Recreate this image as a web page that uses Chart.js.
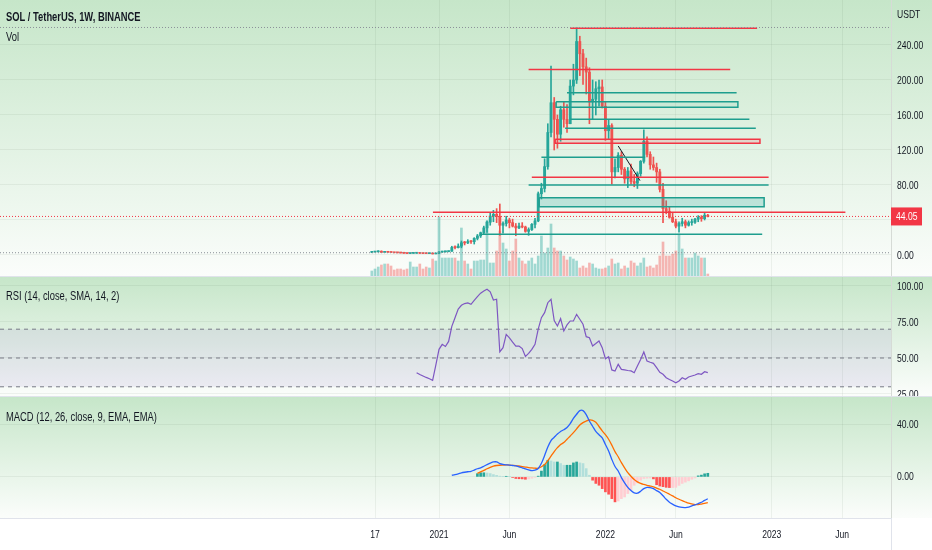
<!DOCTYPE html>
<html>
<head>
<meta charset="utf-8">
<script src="https://cdn.jsdelivr.net/npm/chart.js@4.4.1/dist/chart.umd.min.js"></script>
<style>
  html, body { margin: 0; padding: 0; background: #ffffff; }
  #wrap { position: relative; width: 932px; height: 550px; overflow: hidden; background: #e0e3eb; }
  .pane { position: absolute; left: 0; width: 932px; }
</style>
</head>
<body>
<div id="wrap">
  <div class="pane" style="top:0;height:276px"><canvas id="priceChart"></canvas></div>
  <div class="pane" style="top:277px;height:119px"><canvas id="rsiChart"></canvas></div>
  <div class="pane" style="top:397px;height:153px"><canvas id="macdChart"></canvas></div>
</div>
<script>
// weekly candles, week 0 = week of 4 Jan 2021
const firstWeek = -21;
const opens = [3.0, 3.4, 3.6, 4.3, 3.0, 3.6, 3.1, 2.9, 2.6, 2.5, 2.3, 2.0, 1.7, 1.9, 2.0, 2.2, 1.9, 1.7, 1.6, 1.7, 1.3,
  1.8, 3.4, 3.7, 3.9, 4.3, 8.6, 8.4, 10.1, 14.0, 13.8, 15.4, 15.2, 19.0, 21.8, 25.5, 31.0, 37.5, 44.5, 46.5, 44.0,
  34.0, 36.0, 40.0, 37.0, 33.0, 31.0, 33.0, 32.0, 27.0, 29.0, 35.0, 39.0, 70.0, 76.0, 101.0, 140.0, 174.0, 155.0, 138.0, 166.0,
  155.0, 150.0, 193.0, 200.0, 244.0, 230.0, 215.0, 209.0, 175.0, 178.0, 190.0, 192.0,
  170.0, 142.0, 148.0, 95.0, 100.0, 114.0, 98.0, 87.0, 96.0, 84.0, 82.0, 93.0, 107.0, 130.0, 115.0, 103.0, 100.0, 95.0, 75.0,
  53.0, 50.0, 43.0, 38.0, 33.0, 36.0, 38.0, 34.0, 37.0, 37.5, 41.0, 43.0, 41.5, 45.5];
const highs = [4.0, 4.0, 4.9, 4.8, 4.0, 3.8, 3.3, 3.0, 2.8, 2.7, 2.5, 2.1, 2.2, 2.3, 2.5, 2.6, 2.0, 1.8, 1.9, 1.8, 1.9,
  4.0, 4.3, 4.4, 4.6, 10.0, 10.6, 12.7, 16.0, 15.5, 17.5, 16.6, 19.8, 23.5, 26.2, 33.0, 39.0, 48.0, 51.0, 53.0, 58.3,
  38.0, 44.3, 42.0, 41.0, 36.0, 36.5, 37.0, 33.0, 31.0, 36.0, 42.0, 72.0, 82.0, 110.0, 150.0, 216.0, 180.0, 160.0, 170.0, 175.0,
  172.0, 200.0, 218.0, 260.0, 250.0, 235.0, 225.0, 214.0, 200.0, 198.0, 200.0, 200.0,
  175.0, 155.0, 150.0, 110.0, 117.0, 118.0, 100.0, 100.0, 104.0, 92.0, 95.0, 108.0, 143.0, 135.0, 118.0, 112.0, 105.0, 98.0,
  82.0, 62.0, 55.0, 48.0, 41.0, 38.0, 42.0, 40.0, 39.0, 41.0, 42.0, 45.0, 45.0, 48.0, 46.5];
const lows = [2.6, 3.2, 3.4, 2.7, 2.8, 2.9, 2.6, 2.4, 2.3, 2.2, 1.9, 1.6, 1.6, 1.8, 1.9, 1.7, 1.6, 1.5, 1.5, 1.1, 1.3,
  1.8, 2.9, 3.2, 3.6, 4.1, 6.9, 8.0, 8.2, 11.5, 13.0, 13.2, 12.5, 17.2, 20.0, 24.0, 25.8, 34.0, 38.0, 37.0, 22.5,
  25.0, 33.0, 31.0, 32.0, 22.0, 30.0, 31.0, 26.0, 22.5, 28.0, 31.0, 38.0, 64.0, 72.0, 98.0, 135.0, 120.0, 122.0, 130.0, 146.0,
  140.0, 150.0, 183.0, 196.0, 205.0, 195.0, 184.0, 150.0, 155.0, 160.0, 170.0, 168.0,
  131.0, 133.0, 81.0, 88.0, 95.0, 92.0, 82.0, 77.0, 81.0, 78.0, 76.0, 90.0, 105.0, 112.0, 98.0, 97.0, 83.0, 72.0,
  37.0, 47.0, 42.0, 37.0, 31.0, 26.0, 33.0, 31.0, 33.0, 34.0, 36.0, 38.0, 38.5, 40.0, 43.5];
const closes = [3.4, 3.6, 4.3, 3.0, 3.6, 3.1, 2.9, 2.6, 2.5, 2.3, 2.0, 1.7, 1.9, 2.0, 2.2, 1.9, 1.7, 1.6, 1.7, 1.3, 1.8,
  3.4, 3.7, 3.9, 4.3, 8.6, 8.4, 10.1, 14.0, 13.8, 15.4, 15.2, 19.0, 21.8, 25.5, 31.0, 37.5, 44.5, 46.5, 44.0, 34.0,
  36.0, 40.0, 37.0, 33.0, 31.0, 33.0, 32.0, 27.0, 29.0, 35.0, 39.0, 70.0, 76.0, 101.0, 140.0, 174.0, 155.0, 138.0, 166.0, 155.0,
  150.0, 193.0, 200.0, 244.0, 230.0, 215.0, 209.0, 175.0, 178.0, 190.0, 192.0, 170.0,
  142.0, 148.0, 95.0, 100.0, 114.0, 98.0, 87.0, 96.0, 84.0, 82.0, 93.0, 107.0, 130.0, 115.0, 103.0, 100.0, 95.0, 75.0,
  53.0, 50.0, 43.0, 38.0, 33.0, 36.0, 38.0, 34.0, 37.0, 37.5, 41.0, 43.0, 41.5, 45.5, 44.05];
// volume, millions SOL
const volumes = [5, 7, 9, 11, 12, 12, 10, 6, 7, 7, 6, 7, 14, 9, 9, 12, 7, 9, 8, 17, 15,
  59, 18, 18, 18, 18, 18, 15, 48, 15, 12, 7, 15, 15, 16, 16, 55, 13, 13, 25, 45,
  33, 27, 15, 25, 37, 18, 15, 12, 15, 18, 12, 20, 40, 23, 28, 52, 28, 25, 25, 20,
  16, 19, 17, 15, 8, 10, 8, 13, 12, 8, 7, 7,
  8, 10, 17, 12, 13, 7, 10, 8, 15, 13, 10, 13, 18, 9, 10, 8, 11, 20, 34, 20,
  20, 22, 25, 42, 27, 18, 18, 18, 23, 20, 18, 18, 2];

const rsiStart = -7;
const rsiValues = [39.8, 38.5, 37.5, 36.5, 35.6, 34.5, 45,
  56, 59.5, 58, 61.5, 72, 78, 84, 86.6, 87.8, 88.3, 87.3, 90, 92.6, 95, 96.5, 97.7, 96, 90.3, 90.8, 54.2,
  57.2, 66.4, 64, 61, 58.3, 58.3, 56.5, 51, 53.2, 56, 59.5, 70, 78, 81.5, 88.4, 90.8, 76, 72.2, 77.3, 68.8,
  73, 75.7, 75.7, 80.3, 76.9, 73.4, 64.8, 64.1, 58.3, 60, 61.8, 57.2,
  49.5, 50.9, 41.7, 41, 45.6, 42.1, 41.7, 41.3, 41, 39.8, 44.4, 49, 54.2, 47.9, 47, 46.3, 43.3, 40,
  38.7, 36.3, 35, 34, 32.8, 34, 36.3, 35.2, 36.8, 37.5, 38.2, 39.1, 38.7, 40.5, 39.8];
const rsiLevels = [30, 50, 70];

const macdStart = 4;
const macdValues = [1.3, 1.8, 2.4, 3.1, 3.6, 4.0, 4.3, 5.3, 6.3, 7.0, 8.2, 9.5, 10.6, 11.5, 11.6, 10.2,
  9.6, 9.3, 9.1, 8.8, 8.5, 7.8, 7.0, 6.2, 5.5, 4.9, 5.2, 6.5, 10.5, 16.5, 23.0, 28.0, 30.5, 33.0, 35.0, 36.3,
  38.0, 41.0, 45.0, 48.2, 51.0, 51.0, 48.0, 43.0, 39.0, 35.0, 32.5, 30.0,
  25.0, 20.0, 13.5, 8.0, 4.6, -0.5, -4.5, -8.0, -10.5, -12.3, -12.5, -11.0, -9.0, -8.0, -8.3, -9.0, -10.5,
  -12.0, -14.5, -17.2, -19.5, -21.0, -22.3, -23.1, -23.5, -23.6, -23.2, -22.3, -21.5, -20.5, -19.5, -18.0, -16.8];
const signalStart = 12;
const signalValues = [2.8, 3.9, 5.0, 6.3, 7.4, 8.3, 8.8, 9.0,
  9.1, 9.2, 9.1, 8.9, 8.7, 8.4, 8.0, 7.6, 7.2, 6.9, 6.7, 6.7, 7.8, 9.5, 12.5, 16.0, 19.5, 22.5, 25.0, 26.4,
  29.0, 31.5, 34.1, 37.0, 40.0, 41.8, 43.0, 43.8, 43.5, 42.0, 38.8, 35.5,
  32.5, 29.0, 24.5, 19.5, 15.5, 11.0, 7.0, 3.3, 0.5, -2.0, -3.8, -5.0, -5.8, -6.5, -7.0, -7.6, -8.6,
  -9.5, -10.8, -12.0, -13.3, -14.6, -16.0, -17.2, -18.3, -19.3, -20.2, -20.8, -21.3, -21.3, -20.9, -20.4, -19.8];
const histValues = [2.5, 3.2, 3.2, 3.0, 2.6, 1.8, 1.2, 0.6,
  0.3, 0.5, 0.2, -0.3, -1.2, -1.4, -1.5, -1.8, -1.5, -1.0, -0.4, 0.6, 4.5, 9.5, 12.8, 12.3, 11.5, 11.5, 10.3, 9.0,
  9.0, 9.0, 10.8, 11.5, 10.8, 10.3, 6.4, 1.3, -2.5, -5.0, -6.4, -9.0,
  -11.5, -13.3, -16.7, -19.2, -18.5, -16.7, -15.4, -12.8, -10.3, -6.4, -4.6, -2.5, -1.2, -1.0, -0.8, -1.5,
  -6.0, -7.0, -7.5, -8.0, -8.2, -8.2, -8.0, -6.5, -5.0, -4.0, -3.0, -1.8, -0.8, 0.8, 1.4, 2.4, 2.8];

// drawings on the price pane: [startWeek, endWeek, price]
const redLevels = [[41, 99.4, 259], [28, 91, 212], [29, 103, 88.8], [-1.9, 127, 48.8]];
const tealLevels = [[40, 93, 185.5], [41, 97, 155], [39.4, 99, 144.8], [32, 64.4, 111.6], [28, 103, 80], [12.8, 101, 23.6]];
// boxes: [startWeek, endWeek, top, bottom]
const redZones = [[36.3, 100.3, 132.2, 127.7]];
const tealZones = [[36.6, 93.4, 175.2, 168.8], [31.3, 101.6, 65.5, 55.2]];
const trendLine = [[56, 124.6], [62.8, 85]];
const lowMarker = 2.6; // dotted marker near the 2020 lows

const timeTickWeeks = [-20, 0, 22, 52, 74, 104, 126];
const timeTickLabels = ['17', '2021', 'Jun', '2022', 'Jun', '2023', 'Jun'];
const priceTicks = [0, 40, 80, 120, 160, 200, 240];
const rsiTicks = [25, 50, 75, 100];
const macdTicks = [0, 40];

const fontFamily = "'Liberation Sans', Arial, sans-serif";
const squeeze = 0.78; // the source text is horizontally condensed
const textColor = '#131722';
const gridColor = 'rgba(60, 90, 60, 0.07)';
const upColor = '#26a69a';
const downColor = '#ef5350';
const tealLine = '#1e9e8e';
const redLine = '#f23645';
const xMin = -137.2, xMax = 141.25;

Chart.defaults.font.family = fontFamily;
Chart.defaults.font.size = 11;
Chart.defaults.color = textColor;

const weeks = closes.map((_, i) => firstWeek + i);
const lastPrice = closes[closes.length - 1];
const athPrice = Math.max(...highs);
const candleColors = closes.map((c, i) => c >= opens[i] ? upColor : downColor);
const volumeColors = closes.map((c, i) => c >= opens[i] ? 'rgba(38,166,154,0.42)' : 'rgba(239,83,80,0.42)');

function narrowText(ctx, text, x, y, align, font, color) {
  ctx.save();
  ctx.font = font;
  ctx.fillStyle = color;
  ctx.textBaseline = 'middle';
  ctx.textAlign = align;
  ctx.translate(x, y);
  ctx.scale(squeeze, 1);
  ctx.fillText(text, 0, 0);
  ctx.restore();
}

// green fading background behind each pane
const paneBg = {
  id: 'paneBg',
  beforeDraw(chart) {
    const { ctx, chartArea, width, height } = chart;
    const g = ctx.createLinearGradient(0, chartArea.top, 0, chartArea.bottom);
    g.addColorStop(0, '#c6e6c9');
    g.addColorStop(1, '#fbfdfb');
    ctx.save();
    ctx.fillStyle = '#ffffff';
    ctx.fillRect(0, 0, width, height);
    ctx.fillStyle = g;
    ctx.fillRect(0, chartArea.top, width, chartArea.bottom - chartArea.top);
    ctx.restore();
  }
};

// axis labels and pane titles, drawn condensed
const labels = (lines, yTicks, yFormat, showTime) => ({
  id: 'labels',
  afterDraw(chart) {
    const { ctx, chartArea } = chart;
    const font11 = '11px ' + fontFamily;
    yTicks.forEach(v => {
      const txt = yFormat(v);
      if (txt) narrowText(ctx, txt, chartArea.right + 6, chart.scales.y.getPixelForValue(v) + 0.5, 'left', font11, textColor);
    });
    if (showTime) {
      timeTickWeeks.forEach((w, i) => {
        narrowText(ctx, timeTickLabels[i], chart.scales.x.getPixelForValue(w), chartArea.bottom + 17, 'center', font11, textColor);
      });
    }
    lines.forEach(t => {
      narrowText(ctx, t.text, 6, t.y, 'left', (t.bold ? 'bold ' : '') + '12px ' + fontFamily, textColor);
    });
  }
});

const timeAxis = (showLabels) => ({
  type: 'linear', min: xMin, max: xMax, offset: false,
  grid: { color: gridColor, drawTicks: false, offset: false },
  border: { display: showLabels, color: '#e0e3eb' },
  afterBuildTicks: s => { s.ticks = timeTickWeeks.map(v => ({ value: v })); },
  ticks: { display: false },
  afterFit: s => { s.height = showLabels ? 32 : 0; s.paddingLeft = 0; s.paddingRight = 0; }
});

const valueAxis = (min, max, ticks) => ({
  position: 'right', min, max,
  grid: { color: gridColor, drawTicks: false },
  border: { display: true, color: '#d6dbd6' },
  afterBuildTicks: s => { s.ticks = ticks.map(v => ({ value: v })); },
  ticks: { display: false },
  afterFit: s => { s.width = 41; s.paddingTop = 0; s.paddingBottom = 0; }
});

const fixed2 = v => v.toFixed(2);

const baseOptions = {
  responsive: true, maintainAspectRatio: false, animation: false, events: [],
  layout: { padding: 0 },
  plugins: { legend: { display: false }, tooltip: { enabled: false } }
};

const seg = (x0, x1, y, color, width, dash) => ({
  type: 'line', data: [{ x: x0, y }, { x: x1, y }],
  borderColor: color, borderWidth: width, borderDash: dash || [],
  pointRadius: 0, fill: false, order: 0, yAxisID: 'y'
});

const zone = (z, color, fillColor) => {
  const [x0, x1, top, bottom] = z;
  return [
    { type: 'line', data: [{ x: x0, y: top }, { x: x1, y: top }], borderWidth: 0, pointRadius: 0,
      fill: { value: bottom }, backgroundColor: fillColor, order: 0, yAxisID: 'y' },
    { type: 'line', data: [{ x: x0, y: top }, { x: x1, y: top }, { x: x1, y: bottom }, { x: x0, y: bottom }, { x: x0, y: top }],
      borderColor: color, borderWidth: 1.5, pointRadius: 0, fill: false, order: 0, yAxisID: 'y' }
  ];
};

// price pane
const priceDatasets = [
  { type: 'bar', data: weeks.map((w, i) => ({ x: w, y: volumes[i] })), yAxisID: 'yVol',
    backgroundColor: volumeColors, barThickness: 2, grouped: false, order: 3 },
  { type: 'bar', data: weeks.map((w, i) => ({ x: w, y: [lows[i], highs[i]] })), yAxisID: 'y',
    backgroundColor: candleColors, barThickness: 1, grouped: false, order: 2 },
  { type: 'bar', data: weeks.map((w, i) => ({ x: w, y: [opens[i], closes[i]] })), yAxisID: 'y',
    backgroundColor: candleColors, barThickness: 2.2, minBarLength: 1, grouped: false, order: 1 },
  seg(xMin, xMax, athPrice, '#8a8f98', 1, [1, 2]),
  seg(xMin, xMax, lastPrice, redLine, 1, [1, 2]),
  seg(xMin, xMax, lowMarker, '#8a8f98', 1, [1, 2])
];
redLevels.forEach(l => priceDatasets.push(seg(l[0], l[1], l[2], redLine, 1.5)));
tealLevels.forEach(l => priceDatasets.push(seg(l[0], l[1], l[2], tealLine, 1.5)));
redZones.forEach(z => priceDatasets.push(...zone(z, redLine, 'rgba(242,54,69,0.15)')));
tealZones.forEach((z, i) => priceDatasets.push(...zone(z, tealLine, i ? 'rgba(38,166,154,0.25)' : 'rgba(38,166,154,0.08)')));
priceDatasets.push({
  type: 'line', data: trendLine.map(p => ({ x: p[0], y: p[1] })), borderColor: '#131722',
  borderWidth: 1, pointRadius: 0, fill: false, order: 0, yAxisID: 'y'
});

const lastBadge = {
  id: 'lastBadge',
  afterDraw(chart) {
    const { ctx, chartArea } = chart;
    const y = chart.scales.y.getPixelForValue(lastPrice);
    ctx.save();
    ctx.fillStyle = redLine;
    ctx.fillRect(chartArea.right, y - 9, 31, 18);
    ctx.restore();
    narrowText(ctx, lastPrice.toFixed(2), chartArea.right + 5, y + 0.5, 'left', '11px ' + fontFamily, '#ffffff');
    narrowText(ctx, 'USDT', chartArea.right + 6, 15, 'left', '11px ' + fontFamily, textColor);
  }
};

new Chart(document.getElementById('priceChart'), {
  type: 'bar',
  data: { datasets: priceDatasets },
  options: {
    ...baseOptions,
    scales: {
      x: timeAxis(false),
      y: valueAxis(-24, 291.4, priceTicks),
      yVol: { display: false, min: 0, max: 276 }
    }
  },
  plugins: [paneBg, labels([
    { text: 'SOL / TetherUS, 1W, BINANCE', y: 18, bold: true },
    { text: 'Vol', y: 38 }
  ], priceTicks, v => Math.abs(v - lastPrice) < 12 ? '' : fixed2(v), false), lastBadge]
});

// RSI pane
const rsiDatasets = [
  { type: 'line', data: [{ x: xMin, y: rsiLevels[2] }, { x: xMax, y: rsiLevels[2] }], borderWidth: 0, pointRadius: 0,
    fill: { value: rsiLevels[0] }, backgroundColor: 'rgba(126,87,194,0.1)', order: 2 },
  ...rsiLevels.map(v => ({ type: 'line', data: [{ x: xMin, y: v }, { x: xMax, y: v }], borderColor: '#787b86',
    borderWidth: 1, borderDash: [4, 4], pointRadius: 0, fill: false, order: 1 })),
  { type: 'line', data: rsiValues.map((v, i) => ({ x: rsiStart + i, y: v })), borderColor: '#7e57c2',
    borderWidth: 1.2, pointRadius: 0, fill: false, tension: 0, order: 0 }
];

new Chart(document.getElementById('rsiChart'), {
  type: 'line',
  data: { datasets: rsiDatasets },
  options: {
    ...baseOptions,
    scales: { x: timeAxis(false), y: valueAxis(23.6, 106.25, rsiTicks) }
  },
  plugins: [paneBg, labels([{ text: 'RSI (14, close, SMA, 14, 2)', y: 20 }], rsiTicks, fixed2, false)]
});

// MACD pane
const histColors = histValues.map((v, i) => {
  const prev = i ? histValues[i - 1] : 0;
  if (v >= 0) return v >= prev ? '#26a69a' : '#b2dfdb';
  return v < prev ? '#ff5252' : '#ffcdd2';
});

const macdDatasets = [
  { type: 'bar', data: histValues.map((v, i) => ({ x: signalStart + i, y: v })), backgroundColor: histColors,
    barThickness: 2, grouped: false, order: 2 },
  { type: 'line', data: signalValues.map((v, i) => ({ x: signalStart + i, y: v })), borderColor: '#ff6d00',
    borderWidth: 1.3, pointRadius: 0, fill: false, tension: 0.3, order: 1 },
  { type: 'line', data: macdValues.map((v, i) => ({ x: macdStart + i, y: v })), borderColor: '#2962ff',
    borderWidth: 1.3, pointRadius: 0, fill: false, tension: 0.3, order: 0 }
];

const axisEdge = {
  id: 'axisEdge',
  afterDraw(chart) {
    const { ctx, chartArea, height } = chart;
    ctx.save();
    ctx.strokeStyle = '#e0e3eb';
    ctx.beginPath();
    ctx.moveTo(chartArea.right + 0.5, chartArea.bottom);
    ctx.lineTo(chartArea.right + 0.5, height);
    ctx.stroke();
    ctx.restore();
  }
};

new Chart(document.getElementById('macdChart'), {
  type: 'bar',
  data: { datasets: macdDatasets },
  options: {
    ...baseOptions,
    scales: { x: timeAxis(true), y: valueAxis(-31.6, 61.5, macdTicks) }
  },
  plugins: [paneBg, axisEdge, labels([{ text: 'MACD (12, 26, close, 9, EMA, EMA)', y: 21 }], macdTicks, fixed2, true)]
});
</script>
</body>
</html>
